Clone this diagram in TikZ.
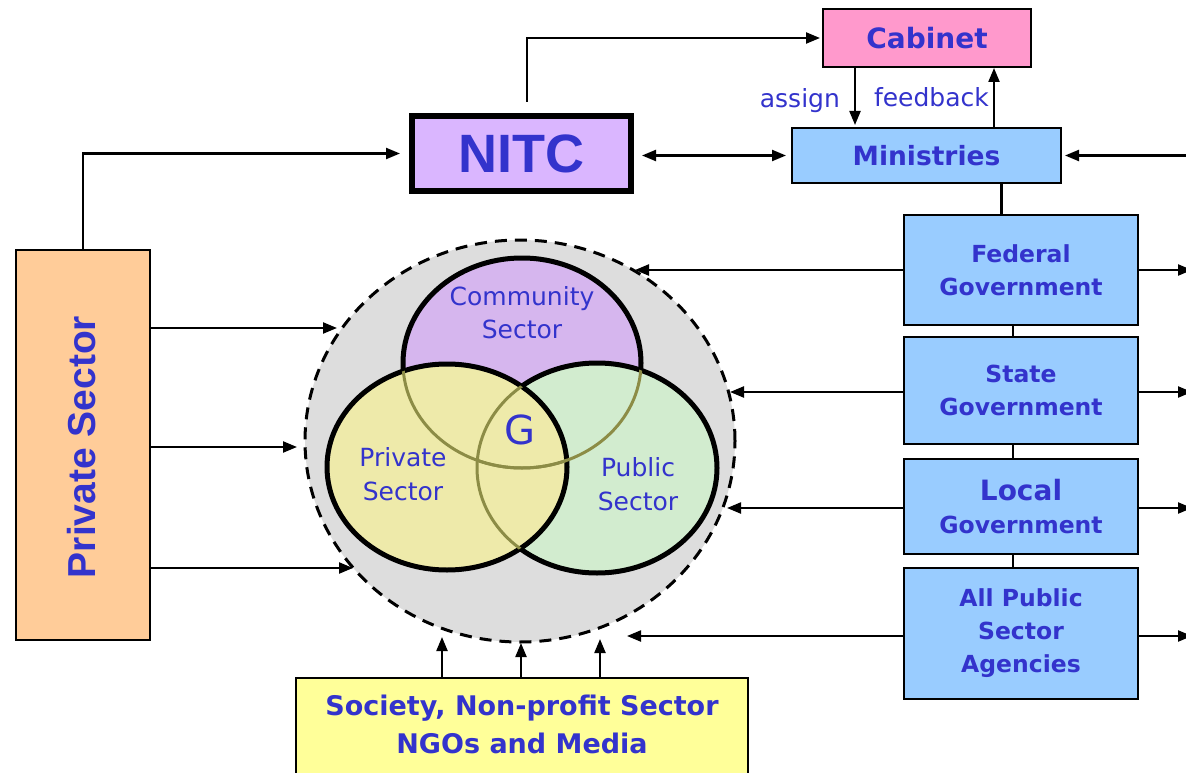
\documentclass[tikz,border=0pt]{standalone}
\usepackage{fontspec}
\setmainfont{DejaVu Sans}
\newfontfamily\arialfont{Liberation Sans}
\usetikzlibrary{arrows.meta,shapes.geometric}
\definecolor{tblue}{RGB}{51,51,204}
\definecolor{cabpink}{RGB}{255,153,204}
\definecolor{nitcpurple}{RGB}{218,182,255}
\definecolor{govblue}{RGB}{153,204,255}
\definecolor{psorange}{RGB}{255,204,153}
\definecolor{socyellow}{RGB}{255,255,153}
\definecolor{circgray}{RGB}{221,221,221}
\definecolor{compurple}{RGB}{214,182,238}
\definecolor{privyellow}{RGB}{238,234,170}
\definecolor{pubgreen}{RGB}{210,236,207}
\definecolor{fadedc}{RGB}{140,140,70}
\tikzset{
 box/.style={draw=black, line width=2pt, inner sep=0pt, align=center, text=tblue},
 arr/.style={line width=2.2pt, -{Triangle[length=14pt,width=11pt]}},
 darr/.style={line width=2.2pt, {Triangle[length=14pt,width=11pt]}-{Triangle[length=14pt,width=11pt]}},
 ln/.style={line width=2.2pt},
 vline/.style={line width=5pt},
 faded/.style={line width=3pt, draw=fadedc},
 lbl/.style={text=tblue, align=center, inner sep=0pt},
 govbox/.style={box, fill=govblue, minimum width=234pt, font={\fontsize{23.5}{33}\selectfont\bfseries}},
}
\begin{document}
\begin{tikzpicture}[x=1pt,y=-1pt]
\useasboundingbox (0,0) rectangle (1186,773);

% gray governance circle
\node[draw=black, ellipse, fill=circgray, line width=3pt, dash pattern=on 12pt off 8pt,
      minimum width=430pt, minimum height=402pt, inner sep=0pt] (gc) at (520,441) {};

% Venn diagram
\fill[compurple] (522,363) ellipse [x radius=119pt, y radius=105pt];
\draw[vline] (522,363) ellipse [x radius=119pt, y radius=105pt];
\fill[pubgreen] (597,468) ellipse [x radius=120pt, y radius=105pt];
\draw[vline] (597,468) ellipse [x radius=120pt, y radius=105pt];
\fill[privyellow] (447,467) ellipse [x radius=120pt, y radius=103pt];
\draw[vline] (447,467) ellipse [x radius=120pt, y radius=103pt];
\begin{scope}
 \clip (597,468) ellipse [x radius=120pt, y radius=105pt];
 \draw[faded] (522,363) ellipse [x radius=119pt, y radius=105pt];
\end{scope}
\begin{scope}
 \clip (447,467) ellipse [x radius=120pt, y radius=103pt];
 \draw[faded] (522,363) ellipse [x radius=119pt, y radius=105pt];
 \draw[faded] (597,468) ellipse [x radius=120pt, y radius=105pt];
\end{scope}
\node[lbl, font=\fontsize{25}{33}\selectfont] (comm) at (522,313) {Community\\Sector};
\node[lbl, font=\fontsize{25}{34}\selectfont] (priv) at (403,474) {Private\\Sector};
\node[lbl, font=\fontsize{25}{34}\selectfont] (pub) at (638,484) {Public\\Sector};
\node[lbl, font=\fontsize{40}{40}\selectfont] (g) at (520,430) {G};

% boxes
\node[box, fill=cabpink, minimum width=208pt, minimum height=58pt,
      font={\fontsize{28}{30}\selectfont\bfseries}] (cab) at (927,38) {Cabinet};
\node[draw=black, line width=6pt, fill=nitcpurple, minimum width=219pt, minimum height=75pt,
      inner sep=0pt, text=tblue, font={\fontsize{54}{56}\selectfont\arialfont\bfseries}] (nitc) at (521.5,153.5) {NITC};
\node[box, fill=govblue, minimum width=269pt, minimum height=55pt,
      font={\fontsize{26.5}{30}\selectfont\bfseries}] (min) at (926.5,155.5) {Ministries};
\node[govbox, minimum height=110pt] (fed) at (1021,270) {Federal\\Government};
\node[govbox, minimum height=107pt] (sta) at (1021,390.5) {State\\Government};
\node[govbox, minimum height=95pt] (loc) at (1021,506.5) {{\fontsize{28}{34}\selectfont Local}\\Government};
\node[govbox, minimum height=131pt] (aps) at (1021,633.5) {All Public\\Sector\\Agencies};
\node[box, fill=psorange, minimum width=134pt, minimum height=390pt] (ps) at (83,445) {};
\node[lbl, rotate=90, font={\fontsize{39}{40}\selectfont\arialfont\bfseries}] (pslbl) at (82,447) {Private Sector};
\node[box, fill=socyellow, minimum width=452pt, minimum height=100pt] (soc) at (522,728) {};
\node[lbl, font={\fontsize{27}{38}\selectfont\bfseries}] (soclbl) at (522,724) {Society, Non-profit Sector\\NGOs and Media};

% free arrow ends
\coordinate (p1) at (337,328);
\coordinate (p2) at (297,447);
\coordinate (p3) at (353,568);
\coordinate (cf) at (635,270);
\coordinate (cs) at (730,392);
\coordinate (cl) at (727,508);
\coordinate (ca) at (627,636);
\coordinate (rf) at (1192,270);
\coordinate (rs) at (1192,392);
\coordinate (rl) at (1192,508);
\coordinate (ra) at (1192,636);
\coordinate (rm) at (1192,155.5);
\coordinate (s1) at (442,637);
\coordinate (s2) at (521,643);
\coordinate (s3) at (600,639);

% top connectors
\draw[arr, shorten <=11pt, shorten >=2pt] ([xshift=5.5pt]nitc.north) |- (cab.west);
\draw[arr, shorten >=9pt] (ps.north) |- (nitc.west);
\draw[darr, shorten <=8pt, shorten >=5pt] (nitc.east |- min.west) -- (min.west);
\draw[arr, shorten >=2pt] ([xshift=-72pt]cab.south) -- ([xshift=-72pt]cab.south |- min.north)
   node[pos=0.55, left, lbl, xshift=-14pt, font=\fontsize{25}{25}\selectfont] {assign};
\draw[arr] ([xshift=67.5pt]min.north) -- ([xshift=67.5pt]min.north |- cab.south)
   node[pos=0.5, left, lbl, xshift=-4pt, font=\fontsize{25}{25}\selectfont] {feedback};
\draw[arr, shorten >=3pt] (rm) -- (min.east);
\draw[ln] ([xshift=75pt]min.south) -- ([xshift=75pt]min.south |- fed.north);
\draw[ln] ([xshift=-8pt]fed.south) -- ([xshift=-8pt]sta.north);
\draw[ln] ([xshift=-8pt]sta.south) -- ([xshift=-8pt]loc.north);
\draw[ln] ([xshift=-8pt]loc.south) -- ([xshift=-8pt]aps.north);

% government arrows
\draw[arr] (fed.west |- cf) -- (cf);
\draw[arr] (sta.west |- cs) -- (cs);
\draw[arr] (loc.west |- cl) -- (cl);
\draw[arr] (aps.west |- ca) -- (ca);
\draw[arr] (fed.east |- rf) -- (rf);
\draw[arr] (sta.east |- rs) -- (rs);
\draw[arr] (loc.east |- rl) -- (rl);
\draw[arr] (aps.east |- ra) -- (ra);

% private sector arrows
\draw[arr] (ps.east |- p1) -- (p1);
\draw[arr] (ps.east |- p2) -- (p2);
\draw[arr] (ps.east |- p3) -- (p3);

% society arrows
\draw[arr] (soc.north -| s1) -- (s1);
\draw[arr] (soc.north -| s2) -- (s2);
\draw[arr] (soc.north -| s3) -- (s3);
\end{tikzpicture}
\end{document}
